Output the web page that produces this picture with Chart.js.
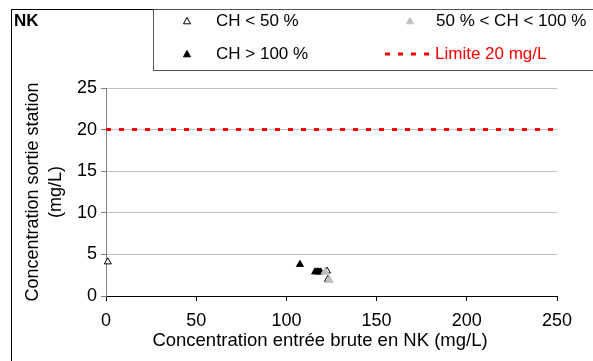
<!DOCTYPE html>
<html>
<head>
<meta charset="utf-8">
<script src="https://cdn.jsdelivr.net/npm/chart.js@4.4.1/dist/chart.umd.min.js"></script>
<style>
    html, body { margin: 0; padding: 0; background: #fff; }
    #wrap { width: 593px; height: 361px; }
</style>
</head>
<body>
<div id="wrap"><canvas id="nkChart" width="593" height="361"></canvas></div>
<script>
// valeurs
let lowX = [1, 122.5, 123];
let lowY = [4.1, 3.0, 2.0];
let midX = [121.4, 123.8];
let midY = [2.9, 1.9];
let highX = [107.5, 115.9, 117, 118, 119];
let highY = [3.8, 2.9, 2.9, 2.9, 2.9];
let limitX = [0, 250];
let limitY = [20, 20];

let seriesLabels = ['CH < 50 %', '50 % < CH < 100 %', 'CH > 100 %', 'Limite 20 mg/L'];
let xTicks = [0, 50, 100, 150, 200, 250];
let yTicks = [0, 5, 10, 15, 20, 25];
let chartTitle = 'NK';
let xTitle = 'Concentration entrée brute en NK (mg/L)';
let yTitle = ['Concentration sortie station', '(mg/L)'];

const FONT = '"Liberation Sans", Arial, sans-serif';

function pts(xs, ys) {
    return xs.map((x, i) => ({x: x, y: ys[i]}));
}

function tri(ctx, x, y, r, fill, stroke) {
    ctx.beginPath();
    ctx.moveTo(x, y - r);
    ctx.lineTo(x + r, y + r * 0.8);
    ctx.lineTo(x - r, y + r * 0.8);
    ctx.closePath();
    ctx.fillStyle = fill;
    ctx.fill();
    if (stroke) {
        ctx.strokeStyle = stroke;
        ctx.lineWidth = 1;
        ctx.stroke();
    }
}

// cadre, titre, légende et titre de l'axe x
const decor = {
    id: 'decor',
    afterDraw(chart) {
        let ctx = chart.ctx;
        ctx.save();
        ctx.strokeStyle = '#000';
        ctx.lineWidth = 1;
        ctx.strokeRect(11.5, 9.5, 700, 500);

        ctx.fillStyle = '#000';
        ctx.font = 'bold 17px ' + FONT;
        ctx.textBaseline = 'middle';
        ctx.textAlign = 'left';
        ctx.fillText(chartTitle, 14, 21);

        ctx.strokeStyle = '#555';
        ctx.strokeRect(153.5, 9.5, 600, 61);

        ctx.font = '17px ' + FONT;
        tri(ctx, 187, 21, 3.5, '#fff', '#000');
        ctx.fillStyle = '#000';
        ctx.fillText(seriesLabels[0], 216, 21);
        tri(ctx, 410, 21, 3.5, '#c0c0c0', '#c0c0c0');
        ctx.fillStyle = '#000';
        ctx.fillText(seriesLabels[1], 436, 21);
        tri(ctx, 187, 54, 3.5, '#000', '#000');
        ctx.fillStyle = '#000';
        ctx.fillText(seriesLabels[2], 216, 54);

        ctx.strokeStyle = '#ff0000';
        ctx.lineWidth = 3;
        ctx.setLineDash([5, 8]);
        ctx.beginPath();
        ctx.moveTo(385, 54);
        ctx.lineTo(432, 54);
        ctx.stroke();
        ctx.setLineDash([]);
        ctx.fillStyle = '#ff0000';
        ctx.fillText(seriesLabels[3], 435, 54);

        ctx.fillStyle = '#000';
        ctx.font = '18.5px ' + FONT;
        ctx.textAlign = 'center';
        ctx.fillText(xTitle, 320, 341);
        ctx.restore();
    }
};

const ctx = document.getElementById('nkChart').getContext('2d');
const nkChart = new Chart(ctx, {
    type: 'scatter',
    data: {
        datasets: [{
            label: seriesLabels[3],
            type: 'line',
            data: pts(limitX, limitY),
            borderColor: '#ff0000',
            borderWidth: 3,
            borderDash: [5, 8],
            pointRadius: 0,
            fill: false,
            order: 4
        }, {
            label: seriesLabels[0],
            data: pts(lowX, lowY),
            pointStyle: 'triangle',
            pointRadius: 4,
            backgroundColor: '#fff',
            borderColor: '#000',
            borderWidth: 1,
            clip: false,
            order: 3
        }, {
            label: seriesLabels[1],
            data: pts(midX, midY),
            pointStyle: 'triangle',
            pointRadius: 4.5,
            backgroundColor: '#c0c0c0',
            borderColor: '#c0c0c0',
            borderWidth: 1,
            order: 1
        }, {
            label: seriesLabels[2],
            data: pts(highX, highY),
            pointStyle: 'triangle',
            pointRadius: 4,
            backgroundColor: '#000',
            borderColor: '#000',
            borderWidth: 1,
            order: 2
        }]
    },
    options: {
        responsive: false,
        animation: false,
        layout: {padding: {left: 0, top: 88, right: 36, bottom: 0}},
        plugins: {legend: {display: false}, title: {display: false}, tooltip: {enabled: false}},
        scales: {
            x: {
                type: 'linear',
                min: 0,
                max: 250,
                afterBuildTicks: (s) => { s.ticks = xTicks.map(v => ({value: v})); },
                afterFit: (s) => { s.height = 65; },
                ticks: {color: '#000', font: {family: FONT, size: 18}, padding: 9, maxRotation: 0},
                grid: {drawOnChartArea: false, tickLength: 5, tickColor: '#000'},
                border: {color: '#000'}
            },
            y: {
                min: 0,
                max: 25,
                afterBuildTicks: (s) => { s.ticks = yTicks.map(v => ({value: v})); },
                afterFit: (s) => { s.width = 106; },
                ticks: {color: '#000', font: {family: FONT, size: 18}, padding: 4},
                grid: {color: '#c0c0c0', tickLength: 5, tickColor: '#808080'},
                border: {color: '#808080'},
                title: {
                    display: true,
                    text: yTitle,
                    color: '#000',
                    font: {family: FONT, size: 18, lineHeight: 1.3},
                    padding: {top: 21, bottom: 0}
                }
            }
        }
    },
    plugins: [decor]
});
</script>
</body>
</html>
